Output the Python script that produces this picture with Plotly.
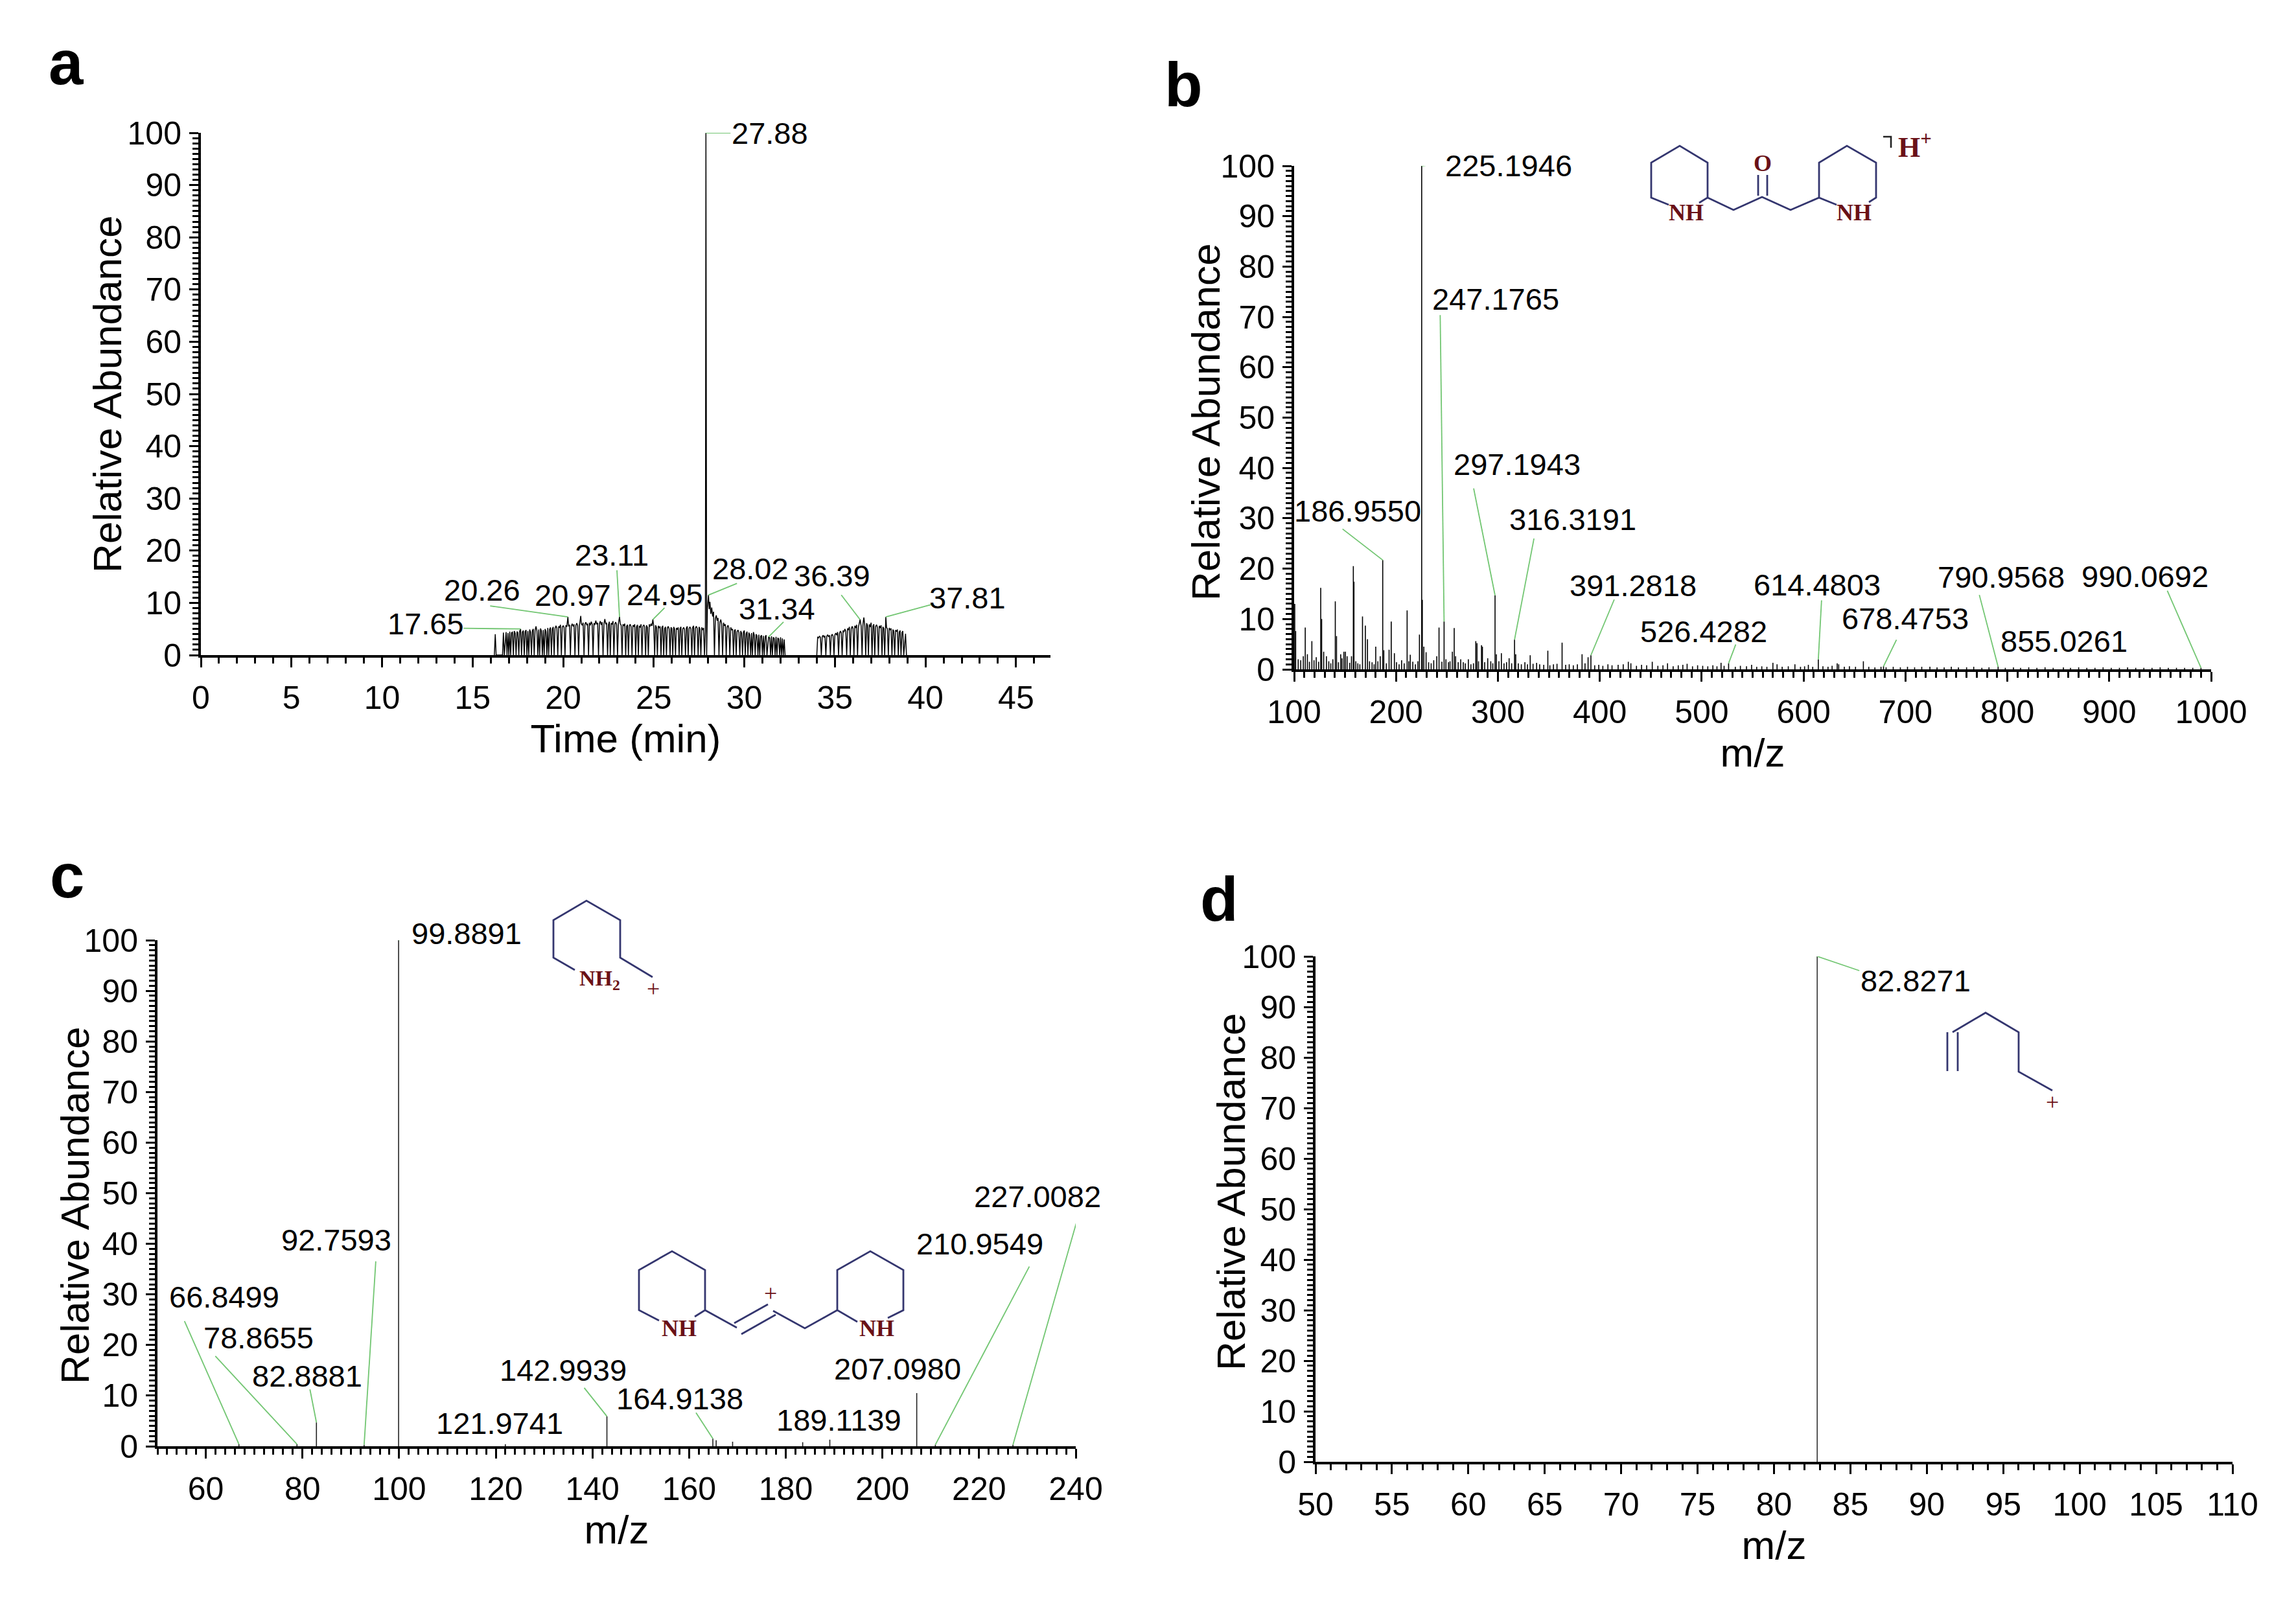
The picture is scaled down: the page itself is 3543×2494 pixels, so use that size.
import plotly.graph_objects as go

W, H = 3543, 2494
FONT = "Liberation Sans, Arial, Helvetica, sans-serif"
SERIF = "Liberation Serif, Times New Roman, serif"
GREEN = "#72c672"
NAVY = "#34366f"
MAROON = "#6a1117"

# ---------------- data ----------------
# (a) total ion chromatogram: (time in min, relative abundance)
tic_a = [
    (16.20, 0), (16.25, 4.0), (16.30, 0), (16.65, 0), (16.70, 4.3), (16.75, 0), (16.85, 4.4), (16.90, 0),
    (16.95, 4.2), (17.00, 0), (17.05, 4.5), (17.10, 0), (17.15, 4.3), (17.20, 4.4), (17.25, 0), (17.30, 4.6),
    (17.35, 4.2), (17.40, 0), (17.45, 4.5), (17.50, 4.3), (17.55, 0), (17.60, 4.6), (17.65, 5.0), (17.70, 0),
    (17.75, 4.4), (17.80, 4.7), (17.85, 0), (17.90, 4.5), (17.95, 4.8), (18.00, 0), (18.05, 4.6), (18.10, 0),
    (18.15, 4.9), (18.20, 4.4), (18.25, 0), (18.30, 4.7), (18.35, 5.0), (18.40, 0), (18.45, 4.8), (18.50, 5.5),
    (18.55, 4.6), (18.60, 0), (18.65, 4.9), (18.70, 0), (18.75, 5.1), (18.80, 4.6), (18.85, 0), (18.90, 4.8),
    (18.95, 0), (19.00, 5.0), (19.05, 4.5), (19.10, 0), (19.15, 5.2), (19.20, 0), (19.25, 4.9), (19.30, 5.3),
    (19.35, 0), (19.40, 5.0), (19.45, 5.4), (19.50, 0), (19.55, 5.1), (19.60, 5.6), (19.65, 5.2), (19.70, 0),
    (19.75, 5.5), (19.80, 5.3), (19.85, 5.8), (19.90, 0), (19.95, 5.4), (20.00, 5.6), (20.05, 5.3), (20.10, 0),
    (20.15, 5.7), (20.20, 5.4), (20.26, 7.3), (20.30, 5.5), (20.35, 5.8), (20.40, 0), (20.45, 5.6), (20.50, 6.0),
    (20.55, 5.5), (20.60, 5.9), (20.65, 0), (20.70, 5.7), (20.75, 6.1), (20.80, 5.6), (20.85, 0), (20.90, 5.8),
    (20.97, 7.5), (21.00, 6.0), (21.05, 5.7), (21.10, 6.2), (21.15, 0), (21.20, 5.9), (21.25, 6.3), (21.30, 5.8),
    (21.35, 6.0), (21.40, 0), (21.45, 6.2), (21.50, 5.7), (21.55, 6.4), (21.60, 5.9), (21.65, 0), (21.70, 6.1),
    (21.75, 5.8), (21.80, 6.6), (21.85, 5.9), (21.90, 6.2), (21.95, 0), (22.00, 6.0), (22.05, 6.5), (22.10, 5.8),
    (22.15, 6.3), (22.20, 0), (22.25, 6.0), (22.30, 6.9), (22.35, 5.9), (22.40, 6.2), (22.45, 0), (22.50, 5.8),
    (22.55, 6.4), (22.60, 0), (22.65, 6.1), (22.70, 5.9), (22.75, 6.5), (22.80, 0), (22.85, 6.0), (22.90, 6.3),
    (22.95, 5.8), (23.00, 0), (23.05, 6.1), (23.11, 7.3), (23.15, 6.0), (23.20, 5.7), (23.25, 0), (23.30, 5.9),
    (23.35, 5.6), (23.40, 6.0), (23.45, 0), (23.50, 5.5), (23.55, 5.8), (23.60, 0), (23.65, 5.6), (23.70, 5.9),
    (23.75, 5.4), (23.80, 0), (23.85, 5.7), (23.90, 5.5), (23.95, 5.9), (24.00, 0), (24.05, 5.4), (24.10, 5.8),
    (24.15, 0), (24.20, 5.6), (24.25, 5.3), (24.30, 5.9), (24.35, 0), (24.40, 5.5), (24.45, 5.8), (24.50, 5.4),
    (24.55, 0), (24.60, 5.7), (24.65, 5.3), (24.70, 0), (24.75, 5.9), (24.80, 5.5), (24.85, 6.0), (24.90, 5.6),
    (24.95, 6.8), (25.00, 5.5), (25.05, 0), (25.10, 5.7), (25.15, 5.3), (25.20, 0), (25.25, 5.6), (25.30, 5.2),
    (25.35, 5.5), (25.40, 0), (25.45, 5.3), (25.50, 5.6), (25.55, 0), (25.60, 5.1), (25.65, 5.4), (25.70, 0),
    (25.75, 5.2), (25.80, 5.5), (25.85, 5.0), (25.90, 0), (25.95, 5.3), (26.00, 5.1), (26.05, 0), (26.10, 5.4),
    (26.15, 5.0), (26.20, 0), (26.25, 5.2), (26.30, 4.9), (26.35, 5.3), (26.40, 0), (26.45, 5.1), (26.50, 5.4),
    (26.55, 0), (26.60, 5.0), (26.65, 5.3), (26.70, 4.9), (26.75, 0), (26.80, 5.2), (26.85, 5.5), (26.90, 0),
    (26.95, 5.1), (27.00, 5.4), (27.05, 5.0), (27.10, 0), (27.15, 5.3), (27.20, 5.6), (27.25, 0), (27.30, 5.2),
    (27.35, 5.5), (27.40, 5.1), (27.45, 0), (27.50, 5.4), (27.55, 5.0), (27.60, 0), (27.65, 5.3), (27.70, 4.8),
    (27.75, 5.2), (27.80, 0), (27.85, 4.6), (27.88, 100), (27.92, 0), (27.96, 9.0), (28.02, 11.5), (28.06, 8.8),
    (28.10, 10.2), (28.15, 7.9), (28.20, 9.1), (28.25, 7.4), (28.30, 8.3), (28.35, 0), (28.40, 7.0), (28.45, 7.6),
    (28.50, 6.6), (28.55, 7.1), (28.60, 0), (28.65, 6.3), (28.70, 6.8), (28.75, 5.9), (28.80, 0), (28.85, 6.2),
    (28.90, 5.6), (28.95, 5.9), (29.00, 0), (29.05, 5.4), (29.10, 5.7), (29.15, 5.1), (29.20, 0), (29.25, 5.3),
    (29.30, 4.8), (29.35, 5.0), (29.40, 0), (29.45, 4.7), (29.50, 4.9), (29.55, 0), (29.60, 4.5), (29.65, 4.8),
    (29.70, 4.3), (29.75, 0), (29.80, 4.6), (29.85, 4.2), (29.90, 0), (29.95, 4.4), (30.00, 4.7), (30.05, 0),
    (30.10, 4.1), (30.15, 4.5), (30.20, 0), (30.25, 4.3), (30.30, 3.9), (30.35, 0), (30.40, 4.2), (30.45, 0),
    (30.50, 4.4), (30.55, 3.8), (30.60, 0), (30.65, 4.0), (30.70, 3.7), (30.75, 0), (30.80, 3.9), (30.85, 0),
    (30.90, 3.6), (30.95, 3.8), (31.00, 0), (31.05, 3.7), (31.10, 0), (31.15, 3.5), (31.20, 3.8), (31.25, 0),
    (31.34, 3.5), (31.40, 3.3), (31.45, 0), (31.50, 3.6), (31.55, 0), (31.60, 3.4), (31.65, 3.2), (31.70, 0),
    (31.75, 3.5), (31.80, 0), (31.85, 3.3), (31.90, 3.1), (31.95, 0), (32.00, 3.4), (32.05, 0), (32.10, 3.2),
    (32.15, 0), (32.20, 3.0), (32.25, 0), (None, None),
    (34.00, 0), (34.05, 3.5), (34.10, 3.3), (34.15, 3.6), (34.20, 3.4), (34.25, 0), (34.30, 3.5), (34.35, 3.8),
    (34.40, 3.4), (34.45, 3.7), (34.50, 0), (34.55, 3.6), (34.60, 3.9), (34.65, 3.5), (34.70, 3.8), (34.75, 0),
    (34.80, 3.7), (34.85, 4.0), (34.90, 3.6), (34.95, 0), (35.00, 3.9), (35.05, 4.2), (35.10, 3.8), (35.15, 4.4),
    (35.20, 0), (35.25, 4.1), (35.30, 4.6), (35.35, 4.3), (35.40, 0), (35.45, 4.7), (35.50, 4.4), (35.55, 5.0),
    (35.60, 4.6), (35.65, 0), (35.70, 5.1), (35.75, 4.8), (35.80, 5.4), (35.85, 0), (35.90, 5.0), (35.95, 5.5),
    (36.00, 5.1), (36.05, 0), (36.10, 5.6), (36.15, 5.2), (36.20, 5.8), (36.25, 0), (36.30, 5.4), (36.39, 6.8),
    (36.45, 5.5), (36.50, 0), (36.55, 6.0), (36.60, 7.2), (36.65, 5.6), (36.70, 0), (36.75, 6.1), (36.80, 5.7),
    (36.85, 0), (36.90, 5.9), (36.95, 5.4), (37.00, 6.2), (37.05, 0), (37.10, 5.6), (37.15, 5.9), (37.20, 0),
    (37.25, 5.5), (37.30, 5.8), (37.35, 5.3), (37.40, 0), (37.45, 5.6), (37.50, 5.2), (37.55, 5.7), (37.60, 0),
    (37.65, 5.4), (37.70, 5.1), (37.75, 0), (37.81, 7.3), (37.85, 5.3), (37.90, 5.0), (37.95, 0), (38.00, 5.2),
    (38.05, 4.8), (38.10, 5.1), (38.15, 0), (38.20, 4.9), (38.25, 4.6), (38.30, 0), (38.35, 4.8), (38.40, 4.5),
    (38.45, 4.9), (38.50, 0), (38.55, 4.4), (38.60, 4.7), (38.65, 0), (38.70, 4.3), (38.75, 4.6), (38.80, 0),
    (38.90, 4.1), (38.95, 0),
]
time_a = [p[0] for p in tic_a]
abund_a = [p[1] for p in tic_a]
labels_a = ["17.65", "20.26", "20.97", "23.11", "24.95", "27.88", "28.02", "31.34", "36.39", "37.81"]

# (b) full-scan mass spectrum
mz_b = [100.6, 101.5, 104.0, 106.5, 109.0, 110.9, 113.0, 115.0, 117.4, 119.5,
        121.7, 124.0, 126.1, 127.0, 129.0, 131.7, 134.0, 136.0, 138.0, 140.4,
        141.6, 143.5, 145.7, 147.0, 148.8, 150.3, 152.0, 154.5, 156.3, 158.1,
        158.7, 160.5, 162.5, 164.5, 167.1, 169.9, 172.0, 174.0, 176.5, 178.5,
        180.1, 182.2, 184.5, 186.9550, 188.0, 190.5, 193.2, 195.3, 198.4, 200.5,
        203.0, 205.5, 208.0, 210.9, 212.5, 214.0, 216.5, 219.0, 221.5, 223.0,
        225.1946, 225.8, 227.3, 229.5, 232.0, 234.5, 237.0, 240.0, 242.2, 245.0,
        247.1765, 249.0, 251.5, 253.0, 255.3, 257.1, 258.5, 261.0, 263.5, 266.0,
        268.0, 271.0, 273.5, 276.0, 278.3, 279.5, 281.0, 283.9, 284.8, 287.0,
        290.0, 293.0, 295.0, 297.1943, 298.5, 301.0, 303.4, 306.0, 308.5, 311.0,
        313.5, 316.3191, 317.5, 320.0, 323.0, 326.5, 329.0, 331.7, 334.5, 338.0,
        341.0, 345.0, 349.0, 351.0, 354.5, 358.0, 363.0, 366.5, 370.0, 374.0,
        378.0, 382.6, 385.5, 388.5, 391.2818, 395.0, 399.0, 403.0, 408.0, 412.0,
        418.0, 423.0, 428.0, 430.5, 436.0, 441.0, 446.0, 451.5, 457.0, 462.0,
        466.5, 472.0, 477.0, 481.5, 485.7, 491.0, 496.0, 501.0, 506.0, 511.0,
        515.0, 519.0, 522.0, 526.4282, 533.0, 538.0, 544.0, 549.0, 554.0, 559.0,
        564.0, 569.9, 574.0, 579.0, 585.0, 591.5, 597.0, 601.0, 604.7, 609.0,
        614.4803, 619.0, 624.0, 628.0, 633.0, 634.5, 640.0, 645.0, 651.0, 658.7,
        664.0, 670.0, 676.0, 678.4753, 681.0, 688.0, 695.0, 702.0, 709.0, 716.0,
        724.0, 731.0, 738.0, 745.0, 752.0, 760.0, 767.0, 775.0, 782.0, 790.9568,
        798.0, 806.0, 813.0, 821.0, 829.0, 837.0, 845.0, 855.0261, 862.0, 870.0,
        878.0, 886.0, 894.0, 902.0, 910.0, 918.0, 926.0, 934.0, 942.0, 950.0,
        958.0, 966.0, 974.0, 982.0, 990.0692]
int_b = [13.0, 7.6, 2.0, 1.8, 2.6, 8.3, 3.0, 1.5, 5.6, 1.8,
         2.4, 1.5, 16.2, 10.0, 3.5, 2.6, 1.6, 1.2, 2.0, 13.5,
         6.6, 1.4, 3.0, 2.2, 3.5, 3.5, 2.6, 1.3, 2.6, 20.5,
         17.4, 1.6, 1.2, 1.0, 10.5, 8.7, 6.0, 1.6, 1.4, 1.0,
         4.5, 1.6, 2.6, 21.7, 3.8, 1.2, 3.9, 9.5, 3.2, 1.4,
         1.0, 1.8, 1.2, 11.7, 1.6, 2.9, 1.5, 1.0, 1.6, 6.9,
         100, 13.8, 4.5, 3.4, 1.4, 1.2, 1.8, 2.6, 8.3, 1.5,
         9.5, 2.0, 1.4, 1.6, 3.5, 8.2, 2.6, 1.4, 2.0, 1.4,
         1.2, 2.0, 1.0, 1.2, 5.6, 5.2, 1.6, 4.8, 4.5, 1.4,
         2.2, 1.6, 1.2, 14.7, 3.0, 1.6, 3.2, 1.2, 1.4, 2.2,
         1.2, 5.9, 3.0, 1.2, 1.0, 1.4, 1.0, 2.8, 1.1, 1.3,
         1.0, 0.9, 3.7, 0.8, 1.0, 1.1, 5.3, 0.9, 1.0, 0.8,
         1.0, 3.0, 1.2, 2.4, 2.8, 0.8, 0.9, 0.7, 1.0, 0.8,
         0.9, 1.0, 1.5, 1.2, 0.7, 0.9, 0.8, 1.5, 0.7, 0.8,
         1.2, 0.6, 0.8, 0.9, 1.1, 0.6, 0.8, 0.7, 0.6, 0.8,
         0.6, 1.3, 0.7, 1.2, 0.5, 0.7, 0.6, 0.9, 0.5, 0.6,
         0.5, 1.3, 1.0, 0.5, 0.6, 1.0, 0.5, 0.6, 0.9, 0.5,
         2.0, 0.6, 0.5, 0.7, 1.2, 1.0, 0.5, 0.6, 0.5, 1.6,
         0.5, 0.4, 0.5, 0.6, 0.4, 0.5, 0.4, 0.5, 0.4, 0.5,
         0.5, 0.4, 0.4, 0.5, 0.4, 0.4, 0.5, 0.3, 0.4, 0.5,
         0.3, 0.4, 0.3, 0.4, 0.3, 0.4, 0.3, 0.4, 0.3, 0.4,
         0.3, 0.3, 0.4, 0.3, 0.3, 0.4, 0.3, 0.3, 0.3, 0.4,
         0.3, 0.3, 0.3, 0.3, 0.3]
labels_b = ["186.9550", "225.1946", "247.1765", "297.1943", "316.3191", "391.2818",
            "526.4282", "614.4803", "678.4753", "790.9568", "855.0261", "990.0692"]

# (c) MS/MS spectrum
mz_c = [66.8499, 78.8655, 82.8881, 92.7593, 99.8891, 121.9741, 142.9939, 164.9138,
        165.6, 169.0, 183.5, 189.1139, 207.0980, 210.9549, 227.0082]
int_c = [0.4, 0.4, 4.7, 0.3, 100, 0.4, 5.9, 1.5, 1.2, 0.9, 0.8, 1.3, 10.5, 0.3, 0.3]
labels_c = ["66.8499", "78.8655", "82.8881", "92.7593", "99.8891", "121.9741", "142.9939",
            "164.9138", "189.1139", "207.0980", "210.9549", "227.0082"]

# (d) MS3 spectrum
mz_d = [82.8271]
int_d = [100]
labels_d = ["82.8271"]

# ---------------- label placement (pixel offsets from the peak apex; dy positive = down) ----------------
# label: ((text centre dx, dy), (leader end dx, dy) or None)
place_a = {"27.88": ((99, 0), (38, 0)), "17.65": ((-146, -8), (-88, -1)),
           "20.26": ((-132, -42), (-120, -17)), "20.97": ((-12, -32), None),
           "23.11": ((-12, -96), (-4, -72)), "24.95": ((19, -39), (18, -18)),
           "28.02": ((65, -41), (44, -18)), "31.34": ((13, -43), (23, -23)),
           "36.39": ((-43, -68), (-29, -38)), "37.81": ((126, -30), (70, -19))}
place_b = {"225.1946": ((134, -1), (31, -4)), "247.1765": ((80, -498), (-6, -473)),
           "297.1943": ((34, -202), (-33, -165)), "316.3191": ((90, -186), (30, -156)),
           "186.9550": ((-39, -76), (-62, -48)), "391.2818": ((65, -108), (36, -86)),
           "526.4282": ((-38, -49), (11, -29)), "614.4803": ((-2, -115), (5, -91)),
           "678.4753": ((34, -74), (20, -41)), "790.9568": ((5, -139), (-29, -111)),
           "855.0261": ((1, -40), None), "990.0692": ((-86, -141), (-52, -119))}
place_c = {"99.8891": ((105, -11), (19, -11)), "92.7593": ((-43, -316), (18, -283)),
           "66.8499": ((-23, -227), (-84, -190)), "78.8655": ((-59, -164), (-126, -136)),
           "82.8881": ((-14, -72), (-10, -51)), "121.9741": ((-9, -32), None),
           "142.9939": ((-68, -71), (-35, -44)), "164.9138": ((-51, -62), (-26, -40)),
           "189.1139": ((14, -30), None), "207.0980": ((-30, -38), None),
           "210.9549": ((69, -310), (145, -275)), "227.0082": ((38, -383), (100, -350))}
place_d = {"82.8271": ((152, 37), (65, 22))}

# panel frames in pixels: x0, x1, y_top, y_bottom
frames = {
    "a": (310, 1621, 205, 1011),
    "b": (1997, 3412, 256, 1033),
    "c": (243, 1660, 1451, 2232),
    "d": (2030, 3445, 1476, 2256),
}
# centres of the rotated y-axis titles (pixels)
ytitle_pos = {"a": (165, 608), "b": (1861, 651), "c": (115, 1860), "d": (1899, 1839)}

fig = go.Figure()


def sticks(mz, inten):
    xs, ys = [], []
    for m, v in zip(mz, inten):
        xs += [m, m, None]
        ys += [0, v, None]
    return xs, ys


fig.add_trace(go.Scatter(x=time_a, y=abund_a, mode="lines", line=dict(color="black", width=1.5),
                         xaxis="x", yaxis="y", hoverinfo="skip", showlegend=False, connectgaps=False))
xs, ys = sticks(mz_b, int_b)
fig.add_trace(go.Scatter(x=xs, y=ys, mode="lines", line=dict(color="black", width=1.6),
                         xaxis="x2", yaxis="y2", hoverinfo="skip", showlegend=False))
xs, ys = sticks(mz_c, int_c)
fig.add_trace(go.Scatter(x=xs, y=ys, mode="lines", line=dict(color="#222222", width=1.6),
                         xaxis="x3", yaxis="y3", hoverinfo="skip", showlegend=False))
xs, ys = sticks(mz_d, int_d)
fig.add_trace(go.Scatter(x=xs, y=ys, mode="lines", line=dict(color="#333333", width=1.6),
                         xaxis="x4", yaxis="y4", hoverinfo="skip", showlegend=False))

shapes = []
annotations = []


def add_labels(labels, xs_, ys_, place, xr, yr):
    for lab in labels:
        xv = float(lab)
        idx = min((i for i in range(len(xs_)) if xs_[i] is not None), key=lambda i: abs(xs_[i] - xv))
        yv = ys_[idx]
        (tx, ty), lead = place[lab]
        if lead is not None:
            shapes.append(dict(type="line", xref=xr, yref=yr, xsizemode="pixel", ysizemode="pixel",
                               xanchor=xs_[idx], yanchor=yv, x0=0, y0=0, x1=lead[0], y1=-lead[1],
                               line=dict(color=GREEN, width=1.8), layer="above"))
        annotations.append(dict(x=xs_[idx], y=yv, xref=xr, yref=yr, text=lab, showarrow=False,
                                xshift=tx, yshift=-ty, xanchor="center", yanchor="middle",
                                font=dict(family=FONT, size=47, color="black")))


add_labels(labels_a, time_a, abund_a, place_a, "x", "y")
add_labels(labels_b, mz_b, int_b, place_b, "x2", "y2")
add_labels(labels_c, mz_c, int_c, place_c, "x3", "y3")
add_labels(labels_d, mz_d, int_d, place_d, "x4", "y4")


def P(x, y):
    return x / W, 1 - y / H


def poly(points, color=NAVY, width=2.8):
    d = ""
    for i, (x, y) in enumerate(points):
        fx, fy = P(x, y)
        d += ("M" if i == 0 else "L") + f"{fx:.5f},{fy:.5f} "
    shapes.append(dict(type="path", xref="paper", yref="paper", path=d.strip(),
                       line=dict(color=color, width=width)))


def chem_text(x, y, text, size=36, bold=True, color=MAROON):
    fx, fy = P(x, y)
    t = f"<b>{text}</b>" if bold else text
    annotations.append(dict(x=fx, y=fy, xref="paper", yref="paper", text=t, showarrow=False,
                            xanchor="center", yanchor="middle",
                            font=dict(family=SERIF, size=size, color=color)))


# structure in panel b
poly([(2575, 316), (2548, 305), (2548, 251), (2592, 225), (2635, 251), (2635, 305), (2622, 313)])
poly([(2635, 305), (2675, 324), (2719, 304), (2763, 324), (2807, 305)])
poly([(2713, 270), (2713, 302)])
poly([(2727, 270), (2727, 302)])
poly([(2834, 316), (2807, 305), (2807, 251), (2850, 225), (2895, 251), (2895, 305), (2884, 312)])
poly([(2906, 211), (2918, 211), (2918, 228)], color="#222222", width=2.6)
chem_text(2602, 328, "NH")
chem_text(2861, 328, "NH")
chem_text(2720, 252, "O", size=36)
chem_text(2955, 224, "H<sup>+</sup>", size=44)

# structures in panel c
poly([(887, 1497), (854, 1478), (854, 1420), (905, 1390), (957, 1420), (957, 1478), (1007, 1508)])
chem_text(925, 1512, "NH<sub>2</sub>", size=34)
chem_text(1008, 1526, "+", size=36, bold=False)

poly([(1017, 2038), (986, 2022), (986, 1960), (1037, 1931), (1088, 1960), (1088, 2022), (1072, 2032)])
poly([(1088, 2022), (1137, 2049)])
poly([(1133, 2042), (1185, 2013)])
poly([(1144, 2059), (1197, 2029)])
poly([(1193, 2023), (1242, 2050), (1292, 2022)])
poly([(1323, 2040), (1292, 2022), (1292, 1960), (1343, 1931), (1394, 1960), (1394, 2022), (1370, 2034)])
chem_text(1048, 2050, "NH")
chem_text(1353, 2050, "NH")
chem_text(1189, 1996, "+", size=36, bold=False)

# structure in panel d
poly([(3005, 1593), (3005, 1653)])
poly([(3021, 1593), (3021, 1653)])
poly([(3013, 1593), (3064, 1563), (3115, 1593), (3115, 1654), (3167, 1683)])
chem_text(3167, 1701, "+", size=36, bold=False)

# panel letters
for letter, (lx, ly) in {"a": (102, 96), "b": (1826, 131), "c": (103, 1351), "d": (1881, 1387)}.items():
    fx, fy = P(lx, ly)
    annotations.append(dict(x=fx, y=fy, xref="paper", yref="paper", text=f"<b>{letter}</b>",
                            showarrow=False, xanchor="center", yanchor="middle",
                            font=dict(family=FONT, size=96, color="black")))

axis_font = dict(family=FONT, size=50, color="black")
title_font = dict(family=FONT, size=62, color="black")

# y-axis titles
for key, (tx, ty) in ytitle_pos.items():
    fx, fy = P(tx, ty)
    annotations.append(dict(x=fx, y=fy, xref="paper", yref="paper", text="Relative Abundance",
                            showarrow=False, textangle=-90, xanchor="center", yanchor="middle",
                            font=title_font))


def xaxis_cfg(key, rng, dtick, minor, title, anchor):
    x0, x1, yt, yb = frames[key]
    return dict(domain=[x0 / W, x1 / W], range=rng, anchor=anchor, automargin=False,
                showline=True, linecolor="black", linewidth=4, ticks="outside", ticklen=15,
                tickwidth=3, tickcolor="black", tick0=0, dtick=dtick, showgrid=False,
                zeroline=False, tickfont=axis_font, ticklabelstandoff=4,
                minor=dict(ticks="outside", ticklen=9, tickwidth=2.5, tickcolor="black", dtick=minor,
                           showgrid=False),
                title=dict(text=title, font=title_font, standoff=8))


def yaxis_cfg(key, anchor):
    x0, x1, yt, yb = frames[key]
    return dict(domain=[1 - yb / H, 1 - yt / H], range=[0, 100], anchor=anchor, automargin=False,
                showline=True, linecolor="black", linewidth=4, ticks="outside", ticklen=14,
                tickwidth=3, tickcolor="black", tick0=0, dtick=10, showgrid=False, zeroline=False,
                tickfont=axis_font, ticklabelstandoff=2,
                minor=dict(ticks="outside", ticklen=9, tickwidth=2.5, tickcolor="black", dtick=1,
                           showgrid=False))


fig.update_layout(
    template="none",
    width=W, height=H, margin=dict(l=0, r=0, t=0, b=0, pad=0, autoexpand=False),
    paper_bgcolor="white", plot_bgcolor="white", showlegend=False,
    font=dict(family=FONT, color="black"),
    xaxis=xaxis_cfg("a", [0, 46.9], 5, 1, "Time (min)", "y"),
    yaxis=yaxis_cfg("a", "x"),
    xaxis2=xaxis_cfg("b", [100, 1000], 100, 10, "m/z", "y2"),
    yaxis2=yaxis_cfg("b", "x2"),
    xaxis3=xaxis_cfg("c", [50, 240], 20, 2, "m/z", "y3"),
    yaxis3=yaxis_cfg("c", "x3"),
    xaxis4=xaxis_cfg("d", [50, 110], 5, 1, "m/z", "y4"),
    yaxis4=yaxis_cfg("d", "x4"),
    shapes=shapes,
    annotations=annotations,
)

fig.write_html("out.html", config={"displayModeBar": False},
               post_script="document.body.style.margin='0';")
